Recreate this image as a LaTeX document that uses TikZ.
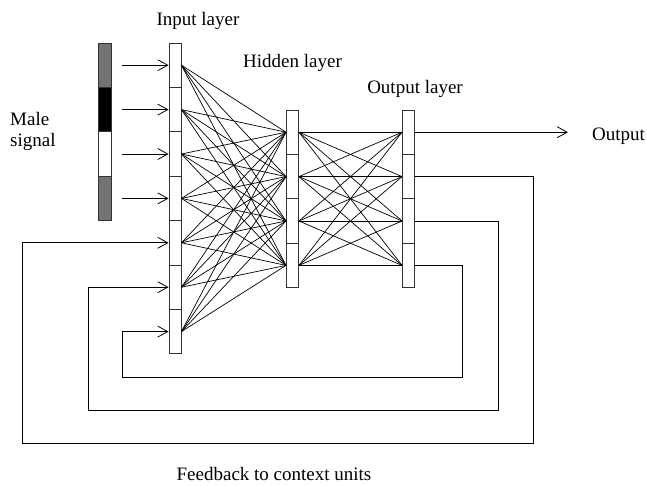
\documentclass[tikz,border=0pt]{standalone}
\usepackage{fontspec}
\setmainfont{Liberation Serif}
\usetikzlibrary{arrows.meta,positioning}

\tikzset{
	cell/.style={draw=black!80, fill=white, line width=0.9pt, minimum width=12pt, minimum height=44.4pt, inner sep=0pt},
	sig/.style={draw=black!80, line width=0.9pt, minimum width=13pt, minimum height=44.4pt, inner sep=0pt},
	link/.style={line width=0.7pt},
	arr/.style={line width=0.8pt, -{Straight Barb[length=10pt,width=11pt]}},
	lbl/.style={font=\fontsize{19}{22}\selectfont, inner sep=0pt},
}

\begin{document}
\begin{tikzpicture}[x=1pt, y=-1pt]
	\useasboundingbox (0,0) rectangle (647,485);
	% units of the three layers
	\foreach \i in {1,...,7} \node[cell] (in\i) at (175,20.8+44.4*\i) {};
	\foreach \i in {1,...,4} \node[cell] (h\i) at (292.5,87.8+44.4*\i) {};
	\foreach \i in {1,...,4} \node[cell] (o\i) at (408.5,87.8+44.4*\i) {};
	% male signal
	\foreach \i/\c in {1/black!55, 2/black, 3/white, 4/black!55} \node[sig, fill=\c] (s\i) at (104.5,20.8+44.4*\i) {};
	\foreach \i in {1,...,4} \draw[arr] ([xshift=11]s\i.east) -- (in\i.west);
	% full connections
	\foreach \i in {1,...,7} {\foreach \j in {1,...,4} {\draw[link] (in\i.east) -- (h\j.west);}}
	\foreach \i in {1,...,4} {\foreach \j in {1,...,4} {\draw[link] (h\i.east) -- (o\j.west);}}
	\draw[arr] (o1.east) -- ++(153,0) coordinate (outend);
	% feedback loops
	\foreach \o/\i/\r/\l/\b in {2/5/533/22/443, 3/6/498/88/410, 4/7/462/122/377} {\draw[arr] (o\o.east) -| (\r,\b) -- (\l,\b) |- (in\i.west);}
	\node[lbl, anchor=base] (inlbl) at (198,25) {Input layer};
	\node[lbl, anchor=base] (hidlbl) at (292.5,67) {Hidden layer};
	\node[lbl, anchor=base] (outlayer) at (415,93) {Output layer};
	\node[lbl, anchor=base west] (male) at (10,125) {Male};
	\node[lbl, anchor=base west] (signal) at (10,146) {signal};
	\node[lbl, anchor=base west] (outlbl) at (592,140) {Output};
	\node[lbl, anchor=base] (fblbl) at (274,480) {Feedback to context units};
\end{tikzpicture}
\end{document}
